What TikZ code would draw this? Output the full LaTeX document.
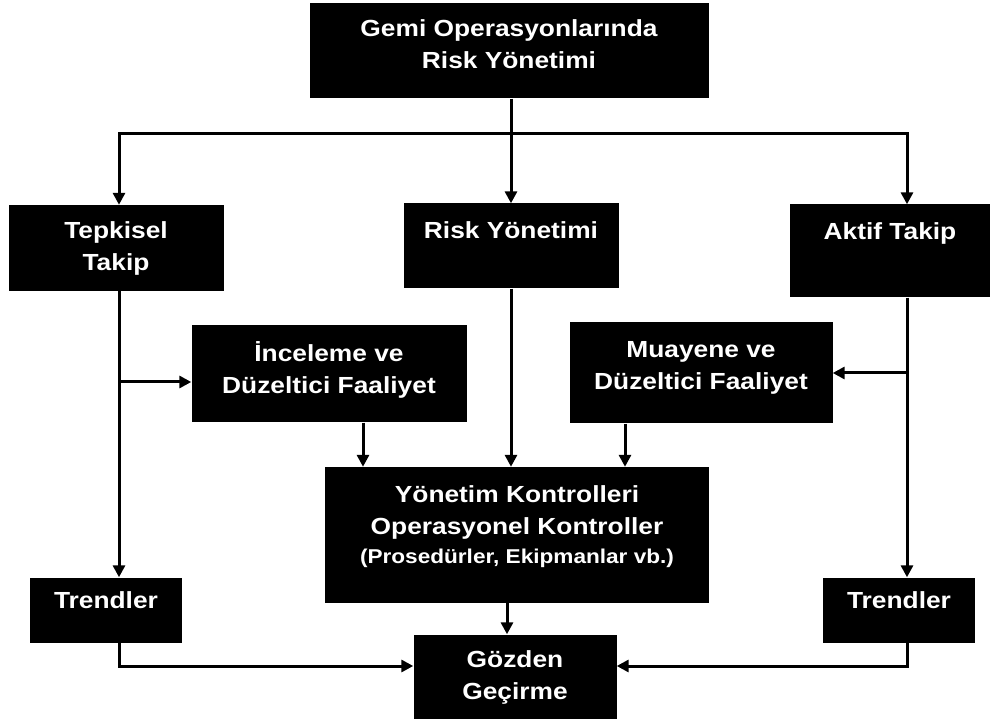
\documentclass[tikz,border=0pt]{standalone}
\usepackage{fontspec}
\setmainfont{Liberation Sans}[FakeStretch=1.13]
\usetikzlibrary{arrows.meta}

\tikzset{
    box/.style={fill=black, text=white, align=center, inner sep=0pt,
        font=\bfseries\fontsize{23.3}{32}\selectfont},
    arr/.style={-{Triangle[length=12pt,width=12pt]}, line width=3pt},
}

\begin{document}
\begin{tikzpicture}[x=1pt, y=-1pt]
\useasboundingbox (0,0) rectangle (994,719);

% kutular
\node [box, minimum width=399pt, minimum height=95pt] (top) at (509,51)
    {Gemi Operasyonlarında\\Risk Yönetimi\\[-18pt]\mbox{}};
\node [box, minimum width=215pt, minimum height=86pt] (tepkisel) at (116,248)
    {Tepkisel\\Takip};
\node [box, minimum width=215pt, minimum height=85pt] (risk) at (511,246)
    {Risk Yönetimi\\\mbox{}};
\node [box, minimum width=200pt, minimum height=93pt] (aktif) at (890,251)
    {Aktif Takip\\[8pt]\mbox{}};
\node [box, minimum width=275pt, minimum height=97pt] (inceleme) at (329,374)
    {İnceleme ve\\Düzeltici Faaliyet\\[-20pt]\mbox{}};
\node [box, minimum width=263pt, minimum height=101pt] (muayene) at (701,373)
    {Muayene ve\\Düzeltici Faaliyet\\[-16pt]\mbox{}};
\node [box, minimum width=384pt, minimum height=136pt] (kontrol) at (517,535)
    {Yönetim Kontrolleri\\Operasyonel Kontroller\\[-3pt]
     {\fontsize{20}{29}\selectfont (Prosedürler, Ekipmanlar vb.)}\\[-12pt]\mbox{}};
\node [box, minimum width=152pt, minimum height=65pt] (trendL) at (106,610)
    {Trendler\\[-12pt]\mbox{}};
\node [box, minimum width=152pt, minimum height=65pt] (trendR) at (899,610)
    {Trendler\\[-12pt]\mbox{}};
\node [box, minimum width=203pt, minimum height=85pt] (gozden) at (515,677)
    {Gözden\\Geçirme};

% kolon cizgileri
\coordinate (bus) at (511,134);
\coordinate (colL) at (119,0);
\coordinate (colR) at (907,0);

% oklar
\draw [arr] (top.south -| risk.north) -- (risk.north);
\draw [arr] (bus) -| (tepkisel.north -| colL);
\draw [arr] (bus) -| (aktif.north -| colR);
\draw [arr] (tepkisel.south -| colL) -- (trendL.north -| colL);
\draw [arr] (aktif.south -| colR) -- (trendR.north -| colR);
\draw [arr] ([yshift=-8pt]inceleme.west -| colL) -- ([yshift=-8pt]inceleme.west);
\draw [arr] (muayene.east -| colR) -- (muayene.east);
\draw [arr] ([xshift=34pt]inceleme.south) -- ([xshift=34pt]inceleme.south |- kontrol.north);
\draw [arr] (risk.south) -- (risk.south |- kontrol.north);
\draw [arr] ([xshift=-76pt]muayene.south) -- ([xshift=-76pt]muayene.south |- kontrol.north);
\draw [arr] ([xshift=-8pt]gozden.north |- kontrol.south) -- ([xshift=-8pt]gozden.north);
\draw [arr] (trendL.south -| colL) |- ([yshift=11pt]gozden.west);
\draw [arr] (trendR.south -| colR) |- ([yshift=11pt]gozden.east);
\end{tikzpicture}
\end{document}
